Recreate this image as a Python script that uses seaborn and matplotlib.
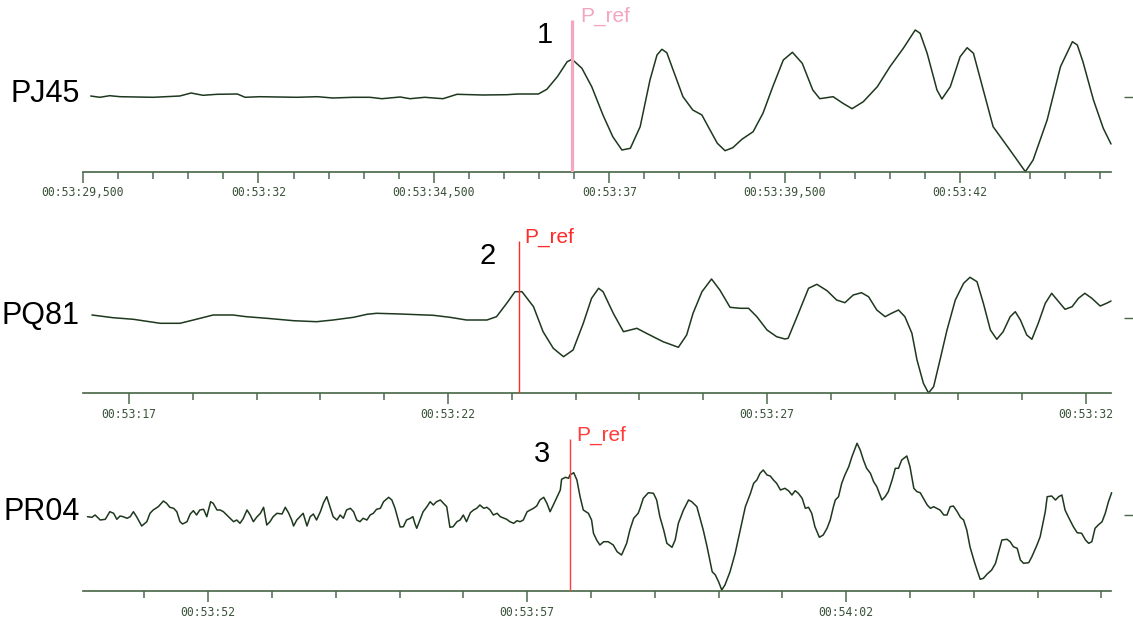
import matplotlib
matplotlib.use("Agg")
import matplotlib.pyplot as plt
from matplotlib.ticker import FixedLocator, FixedFormatter, MultipleLocator
import pandas as pd
import seaborn as sns

sns.set_style("white")
plt.rcParams["font.family"] = ["Liberation Sans", "DejaVu Sans"]

# ---------------------------------------------------------------------------
# Station traces: time in seconds after 00:53:00, amplitude in counts
# ---------------------------------------------------------------------------
stations = ["PJ45", "PQ81", "PR04"]

pj45_time = [29.61, 29.74, 29.88, 30.03, 30.50, 30.88, 31.04, 31.21, 31.41, 31.70,
             31.81, 32.02, 32.55, 32.84, 33.06, 33.35, 33.59, 33.76, 34.02, 34.16,
             34.37, 34.63, 34.83, 35.20, 35.54, 35.70, 35.99, 36.11, 36.26, 36.40,
             36.47, 36.61, 36.75, 36.91, 37.05, 37.18, 37.30, 37.44, 37.58, 37.68,
             37.75, 37.82, 37.91, 38.05, 38.19, 38.32, 38.41, 38.54, 38.65, 38.76,
             38.89, 39.05, 39.19, 39.33, 39.48, 39.61, 39.75, 39.90, 40.00, 40.19,
             40.33, 40.46, 40.62, 40.82, 41.00, 41.19, 41.36, 41.43, 41.53, 41.67,
             41.74, 41.86, 42.00, 42.10, 42.19, 42.33, 42.47, 42.71, 42.93, 43.04,
             43.24, 43.43, 43.60, 43.67, 43.75, 43.90, 44.04, 44.15]
pj45_amp = [1, -0.3, 1.3, 0.3, -0.3, 1, 4, 1.7, 2.7, 3,
            -0.3, 0.3, -0.3, 0.3, -1, -0.3, -0.3, -1.7, 0, -1.7,
            -0.3, -1.7, 2.7, 2, 2.3, 3, 3, 7.7, 20.3, 35.3,
            37.7, 28.7, 10.3, -18, -39.7, -53, -51.3, -29.7, 17, 42,
            47.7, 44.3, 27, 0.3, -13, -18, -29.7, -46.3, -53.7, -50.7,
            -42.3, -34.7, -16.3, 10.3, 37, 44.7, 33.7, 7, -1.7, 0.3,
            -6.3, -11.7, -4.7, 10.3, 30.3, 48.7, 67, 63.7, 43.7, 7,
            -2, 10.3, 40.3, 49.3, 43.7, 7, -29.7, -53, -74.7, -63,
            -23, 30.3, 55.3, 52, 35.3, -3, -31.3, -47]

pq81_time = [16.42, 16.75, 17.07, 17.49, 17.80, 18.01, 18.32, 18.63, 18.84, 19.16,
             19.58, 19.94, 20.20, 20.52, 20.73, 20.88, 21.25, 21.77, 22.03, 22.29,
             22.61, 22.76, 22.92, 23.05, 23.16, 23.34, 23.49, 23.65, 23.81, 23.96,
             24.12, 24.25, 24.36, 24.43, 24.59, 24.75, 24.96, 25.11, 25.37, 25.61,
             25.74, 25.84, 25.98, 26.13, 26.26, 26.42, 26.58, 26.71, 26.84, 27.00,
             27.15, 27.28, 27.33, 27.47, 27.65, 27.78, 27.94, 28.09, 28.22, 28.35,
             28.48, 28.59, 28.72, 28.85, 28.95, 29.06, 29.16, 29.27, 29.35, 29.45,
             29.53, 29.61, 29.71, 29.82, 29.95, 30.08, 30.18, 30.29, 30.39, 30.50,
             30.60, 30.70, 30.81, 30.89, 30.97, 31.07, 31.15, 31.25, 31.36, 31.46,
             31.57, 31.67, 31.78, 31.88, 31.98, 32.09, 32.22, 32.32, 32.39]
pq81_amp = [3, 0.3, -1.3, -5.3, -5.3, -2, 3, 3, 1.3, -0.3,
            -2.7, -3.7, -2, 0.7, 3.7, 4.7, 4, 2.7, 0.7, -2,
            -2, 1.3, 14.7, 26.3, 26.3, 11.3, -13.7, -30.3, -38.7, -32,
            -5.3, 19.7, 29.7, 26.3, 4.7, -13.7, -10.3, -15.3, -23.7, -29.3,
            -17, 4.7, 26.3, 39, 28, 10.7, 9.7, 9.7, 1.3, -12,
            -18.7, -21, -20.3, 1.3, 29.7, 33.7, 27.3, 18, 15.3, 23,
            25.3, 21.3, 8, 1.3, 4.7, 8, 1.3, -15.3, -42, -65.3,
            -75, -68.7, -42, -12, 18, 34.7, 40.7, 36.3, 14.7, -12,
            -21.3, -13.7, 1.3, 6.3, -2, -17, -21.3, -5.3, 14.7, 24.7,
            16.3, 8.7, 11.3, 19.7, 24.7, 19.7, 12, 14.7, 17]

pr04_time = [50.11, 50.18, 50.23, 50.31, 50.39, 50.46, 50.52, 50.57, 50.62, 50.67,
             50.73, 50.78, 50.83, 50.88, 50.96, 51.04, 51.09, 51.14, 51.22, 51.30,
             51.35, 51.40, 51.46, 51.51, 51.56, 51.60, 51.67, 51.72, 51.77, 51.82,
             51.87, 51.93, 51.98, 52.04, 52.08, 52.14, 52.19, 52.24, 52.32, 52.40,
             52.45, 52.50, 52.55, 52.61, 52.66, 52.71, 52.76, 52.82, 52.87, 52.92,
             52.97, 53.02, 53.08, 53.16, 53.21, 53.26, 53.31, 53.34, 53.39, 53.44,
             53.49, 53.55, 53.60, 53.65, 53.70, 53.76, 53.81, 53.86, 53.91, 53.96,
             54.02, 54.07, 54.12, 54.17, 54.23, 54.28, 54.33, 54.38, 54.43, 54.49,
             54.54, 54.59, 54.64, 54.70, 54.75, 54.83, 54.88, 54.93,
             55.01, 55.06, 55.11, 55.17, 55.21, 55.24, 55.27, 55.32, 55.37, 55.43,
             55.48, 55.53, 55.58, 55.64, 55.69, 55.74, 55.79, 55.84, 55.90, 55.95,
             56.00, 56.05, 56.11, 56.16, 56.21, 56.26, 56.32, 56.37, 56.42, 56.47,
             56.53, 56.58, 56.68, 56.73, 56.79, 56.84, 56.89, 56.94, 57.00, 57.05,
             57.10, 57.15, 57.20, 57.26, 57.31, 57.36, 57.41, 57.47, 57.52, 57.54,
             57.60, 57.65, 57.67, 57.73, 57.78, 57.83, 57.88, 57.96, 58.01, 58.04,
             58.09, 58.14, 58.20, 58.27, 58.35, 58.41, 58.48, 58.56, 58.61, 58.67,
             58.74, 58.77, 58.82, 58.90, 58.98, 59.03, 59.08, 59.14, 59.19, 59.27,
             59.32, 59.37, 59.45, 59.53, 59.58, 59.66, 59.71, 59.76, 59.82, 59.90,
             59.95, 60.00, 60.05, 60.10, 60.18, 60.26, 60.34, 60.42, 60.50, 60.55,
             60.60, 60.65, 60.70, 60.76, 60.81, 60.86, 60.91, 60.97,
             61.04, 61.10, 61.15, 61.20, 61.25, 61.31, 61.36, 61.41, 61.46, 61.51,
             61.58, 61.64, 61.70, 61.75, 61.80, 61.83, 61.88, 61.93, 61.98, 62.04,
             62.09, 62.17, 62.22, 62.27, 62.32, 62.38, 62.43, 62.48, 62.56, 62.61,
             62.66, 62.72, 62.77, 62.82, 62.87, 62.95, 63.00, 63.06, 63.11, 63.16,
             63.21, 63.27, 63.32, 63.37, 63.42, 63.47, 63.53, 63.58, 63.63, 63.68,
             63.74, 63.79, 63.84, 63.89, 63.94, 64.00, 64.05, 64.10, 64.15, 64.21,
             64.28, 64.34, 64.39, 64.44, 64.52, 64.57, 64.62, 64.68, 64.73, 64.78,
             64.86, 64.91, 64.99, 65.04, 65.12, 65.15, 65.22, 65.28, 65.33, 65.38,
             65.43, 65.48, 65.56, 65.62, 65.69, 65.75, 65.80, 65.85, 65.90, 65.95,
             66.01, 66.06, 66.11, 66.16]
pr04_amp = [-1.7, -2.3, 0, -5, -4.3, 3.3, 1.7, -4.3, -1, -1.7,
            -3.3, -1.7, 3.3, -1.7, -11, -6.7, 1.7, 5, 8.3, 14,
            11.7, 7.7, 6.7, 3.3, -6.7, -9, -6.7, 1, 4.3, 0,
            5, 5.7, -1.7, 13.3, 11.7, 5, 5, 3.3, -1.7, -6.7,
            -5, -8.3, -3.7, 5, 0, -6.7, -2.3, 1.7, 7.7, -10,
            -6.7, -1.7, 1.7, 1, 7.7, 2.3, -5, -11, -5, -1.7,
            1.7, -11, -1.7, 1, -5, 3.3, 12.3, 18.3, 8.3, -1.7,
            -5, 0, -3.3, 5, 6.7, 3.3, -5, -6.7, -3.3, -5,
            0, 1.7, 5.7, 6.7, 13.3, 17.7, 15, 6.7,
            -12, -11.7, -5, -3.3, -1.7, -8.3, -13.3, -5, 3.3, 8.3,
            13.3, 10, 13.3, 15, 11.7, 8.3, -12.3, -11.7, -6.7, -5,
            0, -6.7, 2.3, 5, 6.7, 10, 6.7, 7.7, 5, 0,
            1.7, -1.7, -4.3, -6.7, -8.3, -5.7, -6.7, -5, 3.3, 5,
            6.7, 9, 15, 17.7, 11.7, 3.3, 10, 18.3, 25, 35.7,
            37.7, 36.7, 40, 42.3, 35, 18.3, 5, 1.7, -5, -18.3,
            -25, -30, -26.7, -26.7, -30, -36.7, -40, -28.3, -15, -3.3,
            1.7, 6.7, 16.7, 22.3, 21.7, 15, -1.7, -15, -28.3, -32.3,
            -25, -8.3, 5, 15, 13.3, 8.3, -3.3, -15, -31.7, -56.7,
            -60, -66.7, -75, -70, -56.7, -38.3, -15, 8.3, 21.7, 31.7,
            35, 41.7, 45, 40, 39, 35, 31.7, 25,
            26.7, 24, 20, 24.3, 21.7, 16.7, 6.7, 7.7, 1.7, -11.7,
            -22.3, -20, -13.3, -5, 8.3, 15, 18.3, 31.7, 40, 48.3,
            58.3, 71.7, 65, 55, 46.7, 41.7, 33.3, 28.3, 15, 18.3,
            23.3, 35, 46.7, 46.7, 55, 59, 48.3, 26.7, 23.3, 22.3,
            16.7, 10, 6.7, 8.3, 6.7, 5, 0, 0, 8.3, 9,
            3.3, -2.3, -5, -15, -31.7, -45, -55, -64.3, -63.3, -59,
            -55, -48.3, -36.7, -25, -24.3, -26.7, -31.7, -33.3, -45, -48.3,
            -47.7, -41.7, -30, -21.7, 3.3, 18.3, 19, 15, 18.3, 20,
            5, -1.7, -11.7, -17.7, -18.3, -25, -28.3, -26.7, -13.3, -10,
            -6.7, 1.7, 13.3, 22.3]

traces = [(pj45_time, pj45_amp), (pq81_time, pq81_amp), (pr04_time, pr04_amp)]

# Display windows (seconds after 00:53:00) and amplitude floor of each panel
window_start = [29.5, 16.28, 50.04]
window_end = [44.15, 32.39, 66.15]
amp_floor = [-75, -75, -76]

# P-wave reference picks
pick_time = [36.47, 23.11, 57.67]
pick_number = ["1", "2", "3"]
pick_label = "P_ref"

# Time axis ticks
major_ticks = [[29.5, 32, 34.5, 37, 39.5, 42],
               [17, 22, 27, 32],
               [52, 57, 62]]
major_labels = [["00:53:29,500", "00:53:32", "00:53:34,500", "00:53:37",
                 "00:53:39,500", "00:53:42"],
                ["00:53:17", "00:53:22", "00:53:27", "00:53:32"],
                ["00:53:52", "00:53:57", "00:54:02"]]
minor_step = [0.5, 1.0, 1.0]

# ---------------------------------------------------------------------------
# Styling
# ---------------------------------------------------------------------------
W, H = 1133, 626
DPI = 100
PX = 72.0 / DPI  # points per pixel

trace_color = "#1e381e"
axis_color = "#4a684a"
tick_text_color = "#3a523a"
pick_colors = ["#f4a6be", "#ff2b2b", "#ff3b3b"]
pick_widths = [3.2, 1.4, 1.4]
pref_dx = [8, 5, 6]
num_dx = [-27, -31, -28]

axis_rows = [172, 393, 591]   # pixel row of each time axis
panel_h = 165
left_px, right_px = 83, 1111

fig = plt.figure(figsize=(W / DPI, H / DPI), dpi=DPI)
fig.patch.set_facecolor("white")

for i, name in enumerate(stations):
    bottom = (H - axis_rows[i]) / H
    ax = fig.add_axes([left_px / W, bottom, (right_px - left_px) / W, panel_h / H])
    ax.set_facecolor("none")

    t, a = traces[i]
    df = pd.DataFrame({"time": t, "amplitude": a})
    sns.lineplot(data=df, x="time", y="amplitude", ax=ax, color=trace_color,
                 linewidth=1.1, sort=False, estimator=None, clip_on=False)

    lo = amp_floor[i]
    ax.set_xlim(window_start[i], window_end[i])
    ax.set_ylim(lo, lo + panel_h)
    ax.set_xlabel("")
    ax.set_ylabel("")

    # pick marker, its label and event number
    ax.vlines(pick_time[i], lo, lo + 152, color=pick_colors[i],
              linewidth=pick_widths[i] * PX, zorder=3)
    ax.annotate(pick_label, xy=(pick_time[i], lo), xytext=(pref_dx[i], 150),
                textcoords="offset pixels", ha="left", va="baseline",
                fontsize=15, color=pick_colors[i])
    ax.annotate(pick_number[i], xy=(pick_time[i], lo), xytext=(num_dx[i], 129),
                textcoords="offset pixels", ha="center", va="baseline",
                fontsize=21, color="black")

    # station name at the trace zero level
    ax.annotate(name, xy=(0, 0), xycoords=("axes fraction", "data"),
                xytext=(-3, -5.5), textcoords="offset pixels",
                ha="right", va="baseline", fontsize=22, color="black")

    # spines
    for side in ("top", "left"):
        ax.spines[side].set_visible(False)
    ax.spines["right"].set_position(("outward", 22 * PX))
    ax.spines["right"].set_visible(False)
    ax.spines["bottom"].set_color(axis_color)
    ax.spines["bottom"].set_linewidth(1.7 * PX)

    # zero-level marker on the right
    ax.yaxis.set_major_locator(FixedLocator([0]))
    ax.yaxis.set_major_formatter(FixedFormatter([""]))
    ax.tick_params(axis="y", left=False, right=True, labelleft=False,
                   direction="in", length=9.5 * PX, width=1.4 * PX,
                   color=axis_color)

    # time axis
    ax.xaxis.set_major_locator(FixedLocator(major_ticks[i]))
    ax.xaxis.set_major_formatter(FixedFormatter(major_labels[i]))
    ax.xaxis.set_minor_locator(MultipleLocator(minor_step[i]))
    ax.tick_params(axis="x", which="major", bottom=True, direction="out",
                   length=11 * PX, width=1.5 * PX, color=axis_color,
                   pad=3.5 * PX, labelcolor=tick_text_color, labelsize=8.3)
    ax.tick_params(axis="x", which="minor", bottom=True, direction="out",
                   length=6.5 * PX, width=1.5 * PX, color=axis_color)
    for lab in ax.get_xticklabels():
        lab.set_fontfamily("DejaVu Sans Mono")

fig.savefig("out.png", dpi=DPI, facecolor="white")
